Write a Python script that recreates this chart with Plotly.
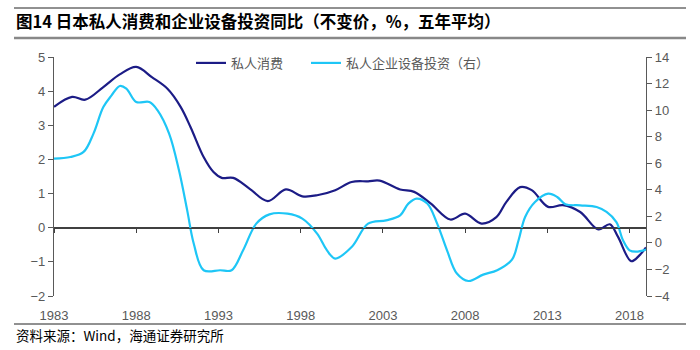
import plotly.graph_objects as go

# Private consumption (left axis), 5-year average yoy %
cons_years = [1983.0, 1984.1, 1984.9, 1986.0, 1987.0, 1988.0, 1988.95, 1989.9, 1990.7, 1991.3,
              1992.1, 1992.7, 1993.2, 1993.9, 1994.9, 1996.0, 1997.1, 1998.1, 1999.0, 2000.1,
              2001.1, 2002.1, 2002.8, 2004.05, 2004.9, 2005.9, 2007.1, 2008.0, 2009.0, 2009.9,
              2010.5, 2011.35, 2012.05, 2013.05, 2013.95, 2015.0, 2016.1, 2016.8, 2017.3, 2018.1,
              2018.6, 2019.0]
cons_vals = [3.54, 3.83, 3.75, 4.12, 4.49, 4.71, 4.41, 4.07, 3.54, 2.95,
             2.07, 1.63, 1.46, 1.46, 1.14, 0.78, 1.12, 0.92, 0.95, 1.10,
             1.34, 1.36, 1.38, 1.12, 1.05, 0.71, 0.24, 0.41, 0.12, 0.31,
             0.75, 1.19, 1.10, 0.61, 0.66, 0.46, -0.05, 0.10, -0.27, -0.98,
             -0.81, -0.58]

# Private business equipment investment (right axis)
inv_years = [1983.0, 1984.0, 1984.8, 1985.4, 1986.0, 1986.5, 1987.0, 1987.4, 1988.0, 1988.8,
             1989.3, 1990.0, 1990.6, 1991.1, 1991.5, 1992.1, 1993.1, 1993.8, 1994.5, 1995.3,
             1996.1, 1997.2, 1998.1, 1999.0, 1999.6, 2000.1, 2001.1, 2002.1, 2003.2, 2004.05,
             2004.55, 2005.05, 2005.7, 2006.3, 2006.9, 2007.5, 2008.2, 2009.1, 2009.95, 2010.85,
             2011.25, 2011.65, 2012.25, 2013.05, 2013.6, 2014.1, 2015.0, 2016.0, 2016.6, 2017.2,
             2017.6, 2018.0, 2018.4, 2019.0]
inv_vals = [6.35, 6.47, 6.85, 8.23, 10.23, 11.11, 11.82, 11.62, 10.61, 10.61,
            9.98, 8.23, 5.47, 2.45, -0.06, -2.06, -2.06, -2.06, -0.56, 1.45,
            2.15, 2.20, 1.83, 0.70, -0.56, -1.18, -0.31, 1.45, 1.70, 2.08,
            2.96, 3.34, 2.96, 1.45, -0.56, -2.31, -2.87, -2.39, -2.06, -1.26,
            0.20, 1.95, 3.08, 3.71, 3.46, 2.91, 2.83, 2.70, 2.33, 1.57,
            0.20, -0.56, -0.66, -0.50]

tick_years = [1983, 1988, 1993, 1998, 2003, 2008, 2013, 2018]
left_ticks = [-2, -1, 0, 1, 2, 3, 4, 5]
right_ticks = [-4, -2, 0, 2, 4, 6, 8, 10, 12, 14]

title_text = "图14 日本私人消费和企业设备投资同比（不变价，%，五年平均）"
source_text = "资料来源：Wind，海通证券研究所"
name_cons = "私人消费"
name_inv = "私人企业设备投资（右）"

NAVY = "#1c1c86"
CYAN = "#1ec6f6"
GRAY = "#595959"
FONT = "Liberation Sans, Arial, sans-serif"
CJK = "Noto Sans CJK SC"

fig = go.Figure()
fig.add_trace(go.Scatter(x=cons_years, y=cons_vals, name=name_cons, mode="lines",
                         line=dict(color=NAVY, width=2.2, shape="spline", smoothing=1.0),
                         xaxis="x", yaxis="y", legend="legend"))
fig.add_trace(go.Scatter(x=inv_years, y=inv_vals, name=name_inv, mode="lines",
                         line=dict(color=CYAN, width=2.2, shape="spline", smoothing=1.0),
                         xaxis="x", yaxis="y2", legend="legend2"))

xr = [1983, 2019]
leg_common = dict(orientation="h", y=0.975, xanchor="left", yanchor="middle",
                  font=dict(family=CJK, size=13, color=GRAY), bgcolor="rgba(0,0,0,0)",
                  itemwidth=30)
fig.update_layout(
    width=700, height=350,
    margin=dict(l=54, r=54, t=57, b=54),
    paper_bgcolor="white", plot_bgcolor="rgba(0,0,0,0)",
    showlegend=True,
    legend=dict(x=(191 - 54) / 592, **leg_common),
    legend2=dict(x=(306 - 54) / 592, **leg_common),
    # x axis line and tick marks at left-axis zero; labels pushed down to the bottom
    xaxis=dict(range=xr, tickvals=tick_years, ticktext=[str(t) for t in tick_years],
               anchor="free", position=2/7,
               showline=True, linecolor="#404040", linewidth=1.3,
               ticks="outside", ticklen=4, tickcolor="#404040", tickwidth=1.3,
               showgrid=False, zeroline=False,
               tickfont=dict(family=FONT, size=13, color=GRAY), ticklabelstandoff=72),
    yaxis=dict(range=[-2, 5], tickvals=left_ticks, showgrid=False,
               zeroline=True, zerolinecolor="#404040", zerolinewidth=1.3,
               showline=True, linecolor="#595959", linewidth=1.3, ticks="outside", ticklen=5,
               tickcolor="#595959", tickfont=dict(family=FONT, size=13, color=GRAY)),
    yaxis2=dict(range=[-4, 14], tickvals=right_ticks, overlaying="y", side="right", anchor="x",
                showgrid=False, zeroline=False, showline=True, linecolor="#595959", linewidth=1.3,
                ticks="outside", ticklen=5, tickcolor="#595959",
                tickfont=dict(family=FONT, size=13, color=GRAY)),
)

# Title and source text
fig.add_annotation(text="<b>" + title_text + "</b>", xref="paper", yref="paper",
                   x=-54/592 + 14/592, y=1 + (57 - 21) / 239, xanchor="left", yanchor="middle",
                   showarrow=False, font=dict(family=CJK, size=16.5, color="#000000"))
fig.add_annotation(text=source_text, xref="paper", yref="paper",
                   x=-54/592 + 14/592, y=-(335 - 296) / 239, xanchor="left", yanchor="middle",
                   showarrow=False, font=dict(family=CJK, size=13.5, color="#000000"))

# Decorative rules above and below
fig.add_shape(type="line", xref="paper", yref="paper", x0=-40/592, x1=1 + 40/592,
              y0=1 + (57 - 8) / 239, y1=1 + (57 - 8) / 239, line=dict(color="#222222", width=1))
fig.add_shape(type="line", xref="paper", yref="paper", x0=-40/592, x1=1 + 40/592,
              y0=1 + (57 - 38) / 239, y1=1 + (57 - 38) / 239, line=dict(color="#888888", width=2.5))
fig.add_shape(type="line", xref="paper", yref="paper", x0=-40/592, x1=1 + 40/592,
              y0=-(324 - 296) / 239, y1=-(324 - 296) / 239, line=dict(color="#222222", width=1))

fig.write_html("out.html")
